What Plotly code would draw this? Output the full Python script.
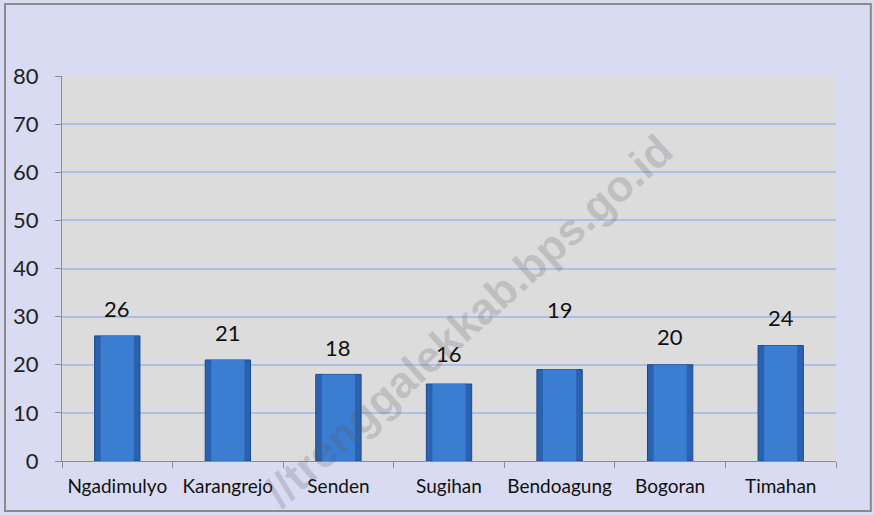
import plotly.graph_objects as go

categories = ["Ngadimulyo", "Karangrejo", "Senden", "Sugihan", "Bendoagung", "Bogoran", "Timahan"]
values = [26, 21, 18, 16, 19, 20, 24]
y_ticks = [0, 10, 20, 30, 40, 50, 60, 70, 80]
label_shift = [27, 27, 27, 31, 60, 28, 28]  # pixel offsets of data labels above bars
watermark = "//trenggalekkab.bps.go.id"

FONT = "Lato, 'Open Sans', sans-serif"

fig = go.Figure()
# base bar (darker edge)
fig.add_trace(go.Bar(
    x=categories, y=values, width=0.41,
    marker=dict(color="#2a62b0", line=dict(color="#1d4a8a", width=1)),
    hoverinfo="x+y", showlegend=False,
))
# inner highlight bar for a bevelled look
fig.add_trace(go.Bar(
    x=categories, y=values, width=0.30,
    marker=dict(color="#3b7dd0", line=dict(width=0)),
    hoverinfo="skip", showlegend=False,
))

for c, v, s in zip(categories, values, label_shift):
    fig.add_annotation(x=c, y=v, text=str(v), showarrow=False, yshift=s,
                       yanchor="middle", font=dict(family=FONT, size=22, color="#111111"))

fig.add_annotation(xref="paper", yref="paper", x=0.525, y=0.365, text="<b>" + watermark + "</b>",
                   xanchor="center", yanchor="middle",
                   showarrow=False, textangle=-42,
                   font=dict(family="Arial, Liberation Sans", size=44, color="rgba(90,90,100,0.22)"))

fig.add_shape(type="rect", xref="paper", yref="paper", x0=-0.0736, x1=1.045, y0=-0.130, y1=1.187,
              line=dict(color="#8a8a8a", width=2), fillcolor="rgba(0,0,0,0)", layer="above")

fig.update_layout(
    width=874, height=515,
    margin=dict(l=62, r=38, t=76, b=54, autoexpand=False),
    paper_bgcolor="#d8dbf2",
    plot_bgcolor="#dcdcdc",
    barmode="overlay",
    bargap=0.59,
    font=dict(family=FONT, color="#222222"),
    xaxis=dict(
        type="category", showgrid=False, automargin=False, tickangle=0,
        showline=True, linecolor="#8c8c8c", linewidth=1,
        ticks="outside", tickson="boundaries", ticklen=6, tickcolor="#8c8c8c",
        ticklabelstandoff=8,
        tickfont=dict(family=FONT, size=19, color="#111111"),
    ),
    yaxis=dict(
        range=[0, 80], tickvals=y_ticks, ticktext=[str(t) for t in y_ticks],
        automargin=False,
        showgrid=True, gridcolor="#a9c0ea", gridwidth=2,
        showline=True, linecolor="#8c8c8c", linewidth=1,
        ticks="outside", ticklen=6, tickcolor="#8c8c8c",
        ticklabelstandoff=12,
        tickfont=dict(family=FONT, size=22, color="#222222"),
        zeroline=False,
    ),
)

fig.write_html("out.html", config={"displayModeBar": False},
               post_script="document.body.style.margin='0';")
